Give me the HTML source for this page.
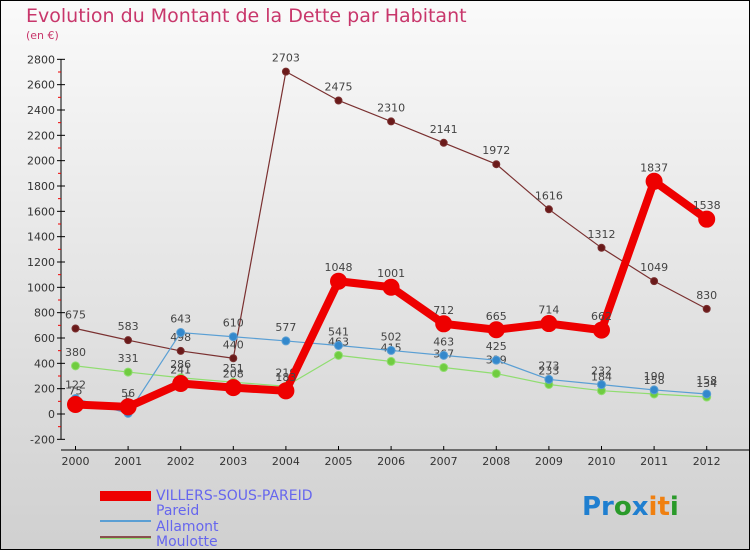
<!DOCTYPE html>
<html><head><meta charset="utf-8"><style>
body{margin:0}
svg{display:block;font-family:"DejaVu Sans","Liberation Sans",sans-serif}
</style></head><body>
<svg id="c" width="750" height="550">
<defs><linearGradient id="bg" x1="0" y1="0" x2="0" y2="1"><stop offset="0" stop-color="#fafafa"/><stop offset="1" stop-color="#d0d0d0"/></linearGradient></defs>
<rect x="0.5" y="0.5" width="749" height="549" fill="url(#bg)" stroke="#000"/>
<text x="26" y="22" font-size="19" fill="#c8366b">Evolution du Montant de la Dette par Habitant</text>
<text x="26" y="39" font-size="11" fill="#c8366b">(en €)</text>
<g id="axes"></g><g id="series"></g>
<g>
<rect x="100" y="491" width="51" height="10" fill="#e00"/>
<text x="156" y="500" font-size="14" fill="#6666ee">VILLERS-SOUS-PAREID</text>
<line x1="100" y1="521" x2="151" y2="521" stroke="#5a9fd4" stroke-width="2"/>
<text x="156" y="515" font-size="14" fill="#6666ee">Pareid</text>
<line x1="100" y1="538" x2="151" y2="538" stroke="#90dd70" stroke-width="2"/>
<text x="156" y="531" font-size="14" fill="#6666ee">Allamont</text>
<line x1="100" y1="557" x2="151" y2="557" stroke="#8a5050" stroke-width="2" transform="translate(0,-20)"/>
<text x="156" y="546" font-size="14" fill="#6666ee">Moulotte</text>
</g>
<g font-size="26" font-weight="bold">
<text x="582" y="515"><tspan fill="#1f7fd0">Pr</tspan><tspan fill="#2a9a2a">o</tspan><tspan fill="#1f7fd0">x</tspan><tspan fill="#f08010">it</tspan><tspan fill="#2a9a2a">i</tspan></text>
</g>
</svg>
<script>
const years=["2000","2001","2002","2003","2004","2005","2006","2007","2008","2009","2010","2011","2012"];
const yTicks=[-200,0,200,400,600,800,1000,1200,1400,1600,1800,2000,2200,2400,2600,2800];
const villers=[75,56,241,208,183,1048,1001,712,665,714,662,1837,1538];
const pareid=[122,5,643,610,577,541,502,463,425,273,232,190,158];
const allamont=[380,331,286,251,219,463,415,367,319,233,184,158,134];
const moulotte=[675,583,498,440,2703,2475,2310,2141,1972,1616,1312,1049,830];
const NS="http://www.w3.org/2000/svg";
function X(i){return 75.5+i*52.6;}
function Y(v){return 414-v*0.12667;}
function mk(t,a,p){const e=document.createElementNS(NS,t);for(const k in a)e.setAttribute(k,a[k]);p.appendChild(e);return e;}
const ax=document.getElementById('axes');
const l1=mk('line',{x1:61,y1:Y(2800),x2:61,y2:Y(-200),stroke:'#000'},ax);


const l2=mk('line',{x1:61,y1:450,x2:750,y2:450,stroke:'#000'},ax);


yTicks.forEach(v=>{
  mk('line',{x1:57,x2:65,y1:Y(v),y2:Y(v),stroke:'#000'},ax);
  if(v<2800) mk('line',{x1:58,x2:61,y1:Y(v+100),y2:Y(v+100),stroke:'#e00'},ax);
  const t=mk('text',{x:55,y:Y(v)+4,'font-size':11,'text-anchor':'end',fill:'#333'},ax);t.textContent=v;
  
  
});
years.forEach((y,i)=>{
  mk('line',{x1:X(i),x2:X(i),y1:446,y2:450,stroke:'#000'},ax);
  const t=mk('text',{x:X(i),y:465,'font-size':11,'text-anchor':'middle',fill:'#333'},ax);t.textContent=y;
  
  
});
const sg=document.getElementById('series');
function series(name,d,color,w,r,dot){
  const g=mk('g',{},sg);
  
  
  mk('polyline',{points:d.map((v,i)=>X(i)+','+Y(v)).join(' '),fill:'none',stroke:color,'stroke-width':w,'stroke-linejoin':'round'},g);
  d.forEach((v,i)=>{
    const c=mk('circle',{cx:X(i),cy:Y(v),r:r,fill:dot,stroke:color,'stroke-width':1},g);
    
    
    const t=mk('text',{x:X(i),y:Y(v)-10,'font-size':11,'text-anchor':'middle',fill:'#444'},g);t.textContent=v;
    
    
  });
}
series('moulotte',moulotte,'#7a3030',1.2,3.5,'#6a1a1a');
series('allamont',allamont,'#90dd70',1.2,4,'#70cc40');
series('pareid',pareid,'#5a9fd4',1.2,4,'#3388cc');
series('villers',villers,'#ee0000',8,8,'#ee0000');
</script>
</body></html>
